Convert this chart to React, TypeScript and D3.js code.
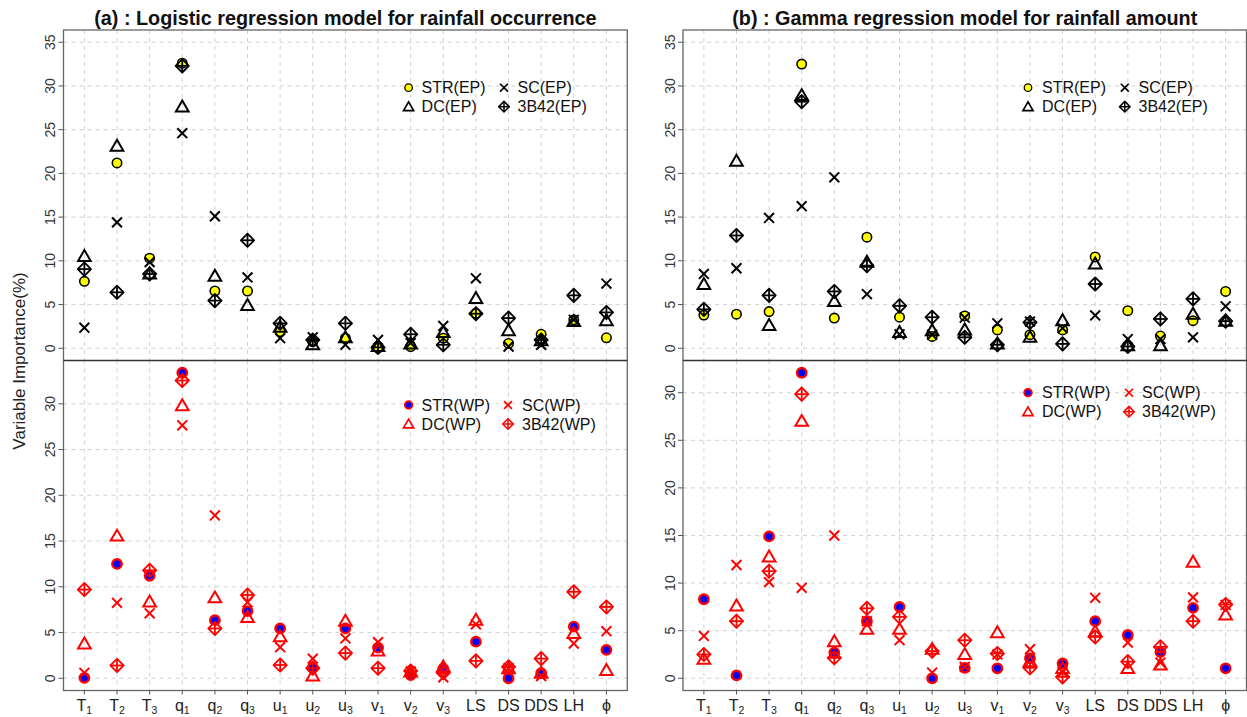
import React from 'react';
import * as d3 from 'd3';

const categories = ['T1', 'T2', 'T3', 'q1', 'q2', 'q3', 'u1', 'u2', 'u3', 'v1', 'v2', 'v3', 'LS', 'DS', 'DDS', 'LH', 'ϕ'];

// Panel (a) logistic regression, EP
const aEP_STR = [7.65, 21.2, 10.3, 32.6, 6.55, 6.55, 1.9, 0.75, 1.15, 0.05, 0.2, 1.15, 4.0, 0.55, 1.6, 3.25, 1.2];
const aEP_DC = [10.4, 23.0, 8.4, 27.5, 8.15, 4.8, 2.3, 0.3, 1.1, 0.1, 0.4, 1.7, 5.6, 1.9, 0.75, 2.95, 3.05];
const aEP_SC = [2.35, 14.4, 9.85, 24.6, 15.1, 8.1, 1.15, 1.25, 0.4, 0.95, 0.6, 2.55, 8.0, 0.2, 0.4, 3.25, 7.4];
const aEP_3B42 = [9.05, 6.4, 8.5, 32.3, 5.45, 12.35, 2.85, 0.95, 2.85, 0.1, 1.6, 0.4, 3.95, 3.45, 0.95, 6.05, 4.1];
// Panel (a) logistic regression, WP
const aWP_STR = [0.05, 12.5, 11.2, 33.4, 6.35, 7.35, 5.45, 1.15, 5.45, 3.35, 0.35, 1.05, 4.0, 0.0, 0.55, 5.65, 3.1];
const aWP_DC = [3.65, 15.45, 8.25, 29.7, 8.7, 6.55, 4.45, 0.15, 6.15, 2.9, 0.6, 1.15, 6.25, 0.95, 0.45, 4.8, 0.75];
const aWP_SC = [0.6, 8.25, 7.1, 27.65, 17.8, 8.3, 3.4, 2.15, 4.35, 3.95, 0.75, 0.1, 5.9, 1.1, 0.25, 3.8, 5.15];
const aWP_3B42 = [9.7, 1.4, 11.8, 32.55, 5.45, 9.1, 1.45, 1.1, 2.75, 1.1, 0.8, 0.6, 1.9, 1.25, 2.15, 9.45, 7.8];
// Panel (b) gamma regression, EP
const bEP_STR = [3.8, 3.9, 4.2, 32.5, 3.45, 12.7, 3.55, 1.35, 3.7, 2.1, 1.55, 2.1, 10.45, 4.3, 1.4, 3.15, 6.5];
const bEP_DC = [7.2, 21.3, 2.5, 28.8, 5.25, 9.75, 1.7, 1.9, 2.0, 0.4, 1.15, 3.05, 9.55, 0.2, 0.2, 3.8, 3.0];
const bEP_SC = [8.5, 9.15, 14.9, 16.25, 19.55, 6.2, 1.6, 1.55, 3.5, 2.85, 3.05, 2.3, 3.75, 1.05, 1.05, 1.25, 4.8];
const bEP_3B42 = [4.45, 12.9, 6.05, 28.2, 6.5, 9.45, 4.85, 3.55, 1.25, 0.4, 2.95, 0.5, 7.35, 0.2, 3.35, 5.65, 3.1];
// Panel (b) gamma regression, WP
const bWP_STR = [8.3, 0.3, 14.9, 32.1, 2.7, 6.0, 7.5, 0.0, 1.1, 1.05, 2.1, 1.55, 6.0, 4.55, 2.75, 7.4, 1.05];
const bWP_DC = [1.9, 7.5, 12.65, 26.9, 3.75, 5.05, 5.05, 2.95, 2.4, 4.7, 1.65, 0.95, 4.8, 0.95, 1.3, 12.1, 6.55];
const bWP_SC = [4.45, 11.9, 10.1, 9.5, 15.0, 6.0, 4.0, 0.6, 1.2, 2.5, 3.05, 0.65, 8.45, 3.75, 1.65, 8.5, 7.7];
const bWP_3B42 = [2.5, 6.0, 11.25, 29.85, 2.15, 7.35, 6.45, 2.85, 4.0, 2.6, 1.1, 0.15, 4.35, 1.75, 3.3, 6.0, 7.75];

const topTicks = [0, 5, 10, 15, 20, 25, 30, 35];
const bottomTicks = [0, 5, 10, 15, 20, 25, 30];

const FONT = '"Liberation Sans", Arial, Helvetica, sans-serif';
const R = 4.7;

type MType = 'circle' | 'tri' | 'x' | 'dplus';

function Marker({ type, x, y, color, fill, s = 1 }: { type: MType; x: number; y: number; color: string; fill?: string; s?: number }) {
  const r = R * s;
  const sw = 2 * Math.max(s, 0.85);
  if (type === 'circle') {
    return <circle cx={x} cy={y} r={r} fill={fill} stroke={color} strokeWidth={color === 'red' ? 2.4 * s : 1.6 * s} />;
  }
  if (type === 'tri') {
    const tr = 1.555 * r, xc = 1.347 * r, yc = 0.7775 * r;
    const pts = `${x},${y - tr} ${x + xc},${y + yc} ${x - xc},${y + yc}`;
    return <polygon points={pts} fill="none" stroke={color} strokeWidth={sw} strokeLinejoin="miter" />;
  }
  if (type === 'x') {
    const c = r * 1.05;
    return (
      <g stroke={color} strokeWidth={sw} strokeLinecap="butt">
        <line x1={x - c} y1={y - c} x2={x + c} y2={y + c} />
        <line x1={x - c} y1={y + c} x2={x + c} y2={y - c} />
      </g>
    );
  }
  const d = Math.SQRT2 * r;
  return (
    <g stroke={color} strokeWidth={sw * 0.9} fill="none">
      <polygon points={`${x},${y - d} ${x + d},${y} ${x},${y + d} ${x - d},${y}`} strokeLinejoin="round" />
      <line x1={x - d} y1={y} x2={x + d} y2={y} />
      <line x1={x} y1={y - d} x2={x} y2={y + d} />
    </g>
  );
}

function CatLabel({ label, x, y }: { label: string; x: number; y: number }) {
  const m = label.match(/^([A-Za-z])(\d)$/);
  if (m) {
    return (
      <text x={x} y={y} textAnchor="middle" fontFamily={FONT} fontSize={16} fill="#222">
        <tspan>{m[1]}</tspan>
        <tspan fontSize={10.5} dy={3}>{m[2]}</tspan>
      </text>
    );
  }
  return (
    <text x={x} y={y} textAnchor="middle" fontFamily={FONT} fontSize={16} fill="#222">{label}</text>
  );
}

const TOP = 30, MID = 360.5, BOT = 690.5;

export default function App() {
  const W = 1247, H = 717;
  const cols = [
    {
      x0: 63.5, x1: 627.3, labelX: 50,
      title: '(a) : Logistic regression model for rainfall occurrence',
      ep: { STR: aEP_STR, DC: aEP_DC, SC: aEP_SC, B: aEP_3B42 },
      wp: { STR: aWP_STR, DC: aWP_DC, SC: aWP_SC, B: aWP_3B42 },
      legEP: { s1: 408.6, t1: 421.6, s2: 504, t2: 517.5, y1: 87.7, y2: 106.7 },
      legWP: { s1: 408.6, t1: 421.6, s2: 508, t2: 522, y1: 405, y2: 424 },
    },
    {
      x0: 683, x1: 1246.5, labelX: 670,
      title: '(b) : Gamma regression model for rainfall amount',
      ep: { STR: bEP_STR, DC: bEP_DC, SC: bEP_SC, B: bEP_3B42 },
      wp: { STR: bWP_STR, DC: bWP_DC, SC: bWP_SC, B: bWP_3B42 },
      legEP: { s1: 1028, t1: 1042, s2: 1124.8, t2: 1138.5, y1: 87.7, y2: 106.7 },
      legWP: { s1: 1028, t1: 1042, s2: 1129, t2: 1142, y1: 392.7, y2: 411.7 },
    },
  ];

  const n = categories.length;
  const pad = 0.04 * (n - 1);

  return (
    <svg width={W} height={H} style={{ position: 'absolute', left: 0, top: 0, background: '#fff' }} fontFamily={FONT}>
      <rect x={0} y={0} width={W} height={H} fill="#fff" />
      <text x={19} y={361} transform="rotate(-90,19,361)" textAnchor="middle" dominantBaseline="central" fontSize={17} fill="#222">
        Variable Importance(%)
      </text>
      {cols.map((c, ci) => {
        const x = d3.scaleLinear().domain([1 - pad, n + pad]).range([c.x0, c.x1]);
        const yTop = d3.scaleLinear().domain([-0.04 * 35, 35 * 1.04]).range([MID, TOP]);
        const wpMax = d3.max([...c.wp.STR, ...c.wp.DC, ...c.wp.SC, ...c.wp.B]) as number;
        const yBot = d3.scaleLinear().domain([-0.04 * wpMax, wpMax * 1.04]).range([BOT, MID]);
        const panels = [
          { y: yTop, ticks: topTicks, y0: TOP, y1: MID, data: c.ep, col: 'black', fillC: 'yellow', leg: c.legEP, tag: 'EP' },
          { y: yBot, ticks: bottomTicks.filter(t => t <= wpMax * 1.04), y0: MID, y1: BOT, data: c.wp, col: 'red', fillC: 'blue', leg: c.legWP, tag: 'WP' },
        ];
        return (
          <g key={ci}>
            <text x={(c.x0 + c.x1) / 2} y={25} textAnchor="middle" fontSize={19.8} fontWeight="bold" fill="#111">{c.title}</text>
            {panels.map((p, pi) => (
              <g key={pi}>
                <g stroke="#d2d2d2" strokeWidth={1} strokeDasharray="4,4">
                  {categories.map((_, i) => (
                    <line key={'v' + i} x1={x(i + 1)} x2={x(i + 1)} y1={p.y0} y2={p.y1} />
                  ))}
                  {p.ticks.map(t => (
                    <line key={'h' + t} x1={c.x0} x2={c.x1} y1={p.y(t)} y2={p.y(t)} />
                  ))}
                </g>
                <g stroke="#555" strokeWidth={1}>
                  {p.ticks.map(t => (
                    <line key={'t' + t} x1={c.x0 - 5} x2={c.x0} y1={p.y(t)} y2={p.y(t)} />
                  ))}
                </g>
                {p.ticks.map(t => (
                  <text key={'l' + t} x={c.labelX} y={p.y(t)} transform={`rotate(-90,${c.labelX},${p.y(t)})`} textAnchor="middle" dominantBaseline="central" fontSize={14} fill="#333">{t}</text>
                ))}
                {categories.map((_, i) => (
                  <g key={'p' + i}>
                    <Marker type="circle" x={x(i + 1)} y={p.y(p.data.STR[i])} color={p.col} fill={p.fillC} />
                    <Marker type="x" x={x(i + 1)} y={p.y(p.data.SC[i])} color={p.col} />
                    <Marker type="tri" x={x(i + 1)} y={p.y(p.data.DC[i])} color={p.col} />
                    <Marker type="dplus" x={x(i + 1)} y={p.y(p.data.B[i])} color={p.col} />
                  </g>
                ))}
                <g fontSize={16} fill="#111">
                  <Marker type="circle" x={p.leg.s1} y={p.leg.y1} color={p.col} fill={p.fillC} s={0.8} />
                  <text x={p.leg.t1} y={p.leg.y1} dominantBaseline="central">{`STR(${p.tag})`}</text>
                  <Marker type="x" x={p.leg.s2} y={p.leg.y1} color={p.col} s={0.8} />
                  <text x={p.leg.t2} y={p.leg.y1} dominantBaseline="central">{`SC(${p.tag})`}</text>
                  <Marker type="tri" x={p.leg.s1} y={p.leg.y2 + 1} color={p.col} s={0.8} />
                  <text x={p.leg.t1} y={p.leg.y2} dominantBaseline="central">{`DC(${p.tag})`}</text>
                  <Marker type="dplus" x={p.leg.s2} y={p.leg.y2} color={p.col} s={0.8} />
                  <text x={p.leg.t2} y={p.leg.y2} dominantBaseline="central">{`3B42(${p.tag})`}</text>
                </g>
              </g>
            ))}
            <rect x={c.x0} y={TOP} width={c.x1 - c.x0} height={BOT - TOP} fill="none" stroke="#666" strokeWidth={1.3} />
            <line x1={c.x0} x2={c.x1} y1={MID} y2={MID} stroke="#333" strokeWidth={1.5} />
            <g stroke="#555" strokeWidth={1}>
              {categories.map((_, i) => (
                <line key={'xt' + i} x1={x(i + 1)} x2={x(i + 1)} y1={BOT} y2={BOT + 4} />
              ))}
            </g>
            {categories.map((lab, i) => (
              <CatLabel key={'xl' + i} label={lab} x={x(i + 1)} y={710.5} />
            ))}
          </g>
        );
      })}
    </svg>
  );
}
